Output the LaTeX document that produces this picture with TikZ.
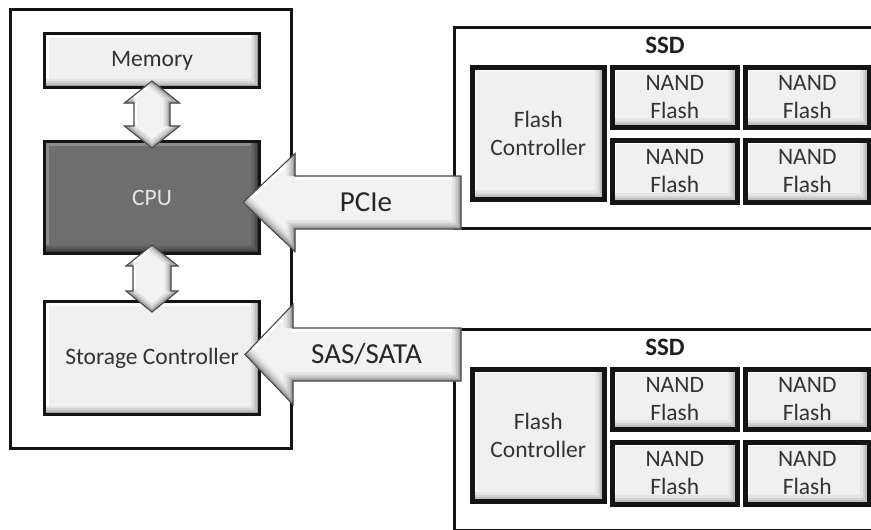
\documentclass[tikz,border=0pt]{standalone}
\usepackage{fontspec}
\setmainfont{Carlito}
\usetikzlibrary{calc}

\tikzset{
  txt/.style={text=black!80, font=\fontsize{23.5}{27.5}\selectfont, align=center},
  % raised-panel look: highlight on top/left, graded shade on bottom/right
  bevel/.style n args={2}{path picture={
      \draw[line width=8pt, #1, line join=miter]
        (path picture bounding box.south west) -- (path picture bounding box.north west)
        -- (path picture bounding box.north east);
      \foreach \bw/\bc in {#2}{
        \draw[line width=\bw pt, black!\bc, line join=miter]
          (path picture bounding box.south west) -- (path picture bounding box.south east)
          -- (path picture bounding box.north east);
      }}},
  unit/.style={rectangle, anchor=north west, inner sep=0pt, txt},
  lightbox/.style={unit, draw=black!92, line width=3pt, fill=black!6,
      bevel={white}{18/10,13/17,9/25,5/38}},
  chipbox/.style={lightbox, line width=4.5pt},
  cpubox/.style={unit, draw=black!92, line width=3pt, fill=black!57, text=black!10,
      bevel={black!45}{18/60,13/64,9/70,5/78}},
  frame/.style={rectangle, anchor=north west, inner sep=0pt, draw=black!92,
      line width=2.6pt, fill=white},
  ssdtitle/.style={font=\fontsize{25}{30}\selectfont\bfseries, text=black!88},
  lbl/.style={font=\fontsize{29}{34}\selectfont, text=black!85},
  arrowline/.style={line width=1.1pt, draw=black!72, line join=miter},
}

% left-pointing block arrow: tip, tail, head length, head half height, shaft half height
\newcommand\leftblockarrow[5]{%
  \path ($(#1)+(#3,#4)$) coordinate (la2)
        ($(#1)+(#3,#5)$) coordinate (la3)
        ($(#2)+(0pt,#5)$) coordinate (la4)
        ($(#2)+(0pt,-#5)$) coordinate (la5)
        ($(#1)+(#3,-#5)$) coordinate (la6)
        ($(#1)+(#3,-#4)$) coordinate (la7);
  \begin{scope}
    \clip (#1) -- (la2) -- (la3) -- (la4) -- (la5) -- (la6) -- (la7) -- cycle;
    \fill[black!5] (#1) -- (la2) -- (la3) -- (la4) -- (la5) -- (la6) -- (la7) -- cycle;
    \draw[line width=8pt, white] (#1) -- (la2) (la3) -- (la4);
    \foreach \bw/\bc in {18/10,13/17,9/25,5/38}{
      \draw[line width=\bw pt, black!\bc, line join=miter]
        (la2) -- (la3) (la4) -- (la5) -- (la6) -- (la7) -- (#1);
    }
  \end{scope}
  \draw[arrowline] (#1) -- (la2) -- (la3) -- (la4) -- (la5) -- (la6) -- (la7) -- cycle;
}

% vertical double block arrow: top tip, bottom tip, head length, head half width, shaft half width
\newcommand\vdoublearrow[5]{%
  \path ($(#1)+(#4,-#3)$) coordinate (va2)
        ($(#1)+(#5,-#3)$) coordinate (va3)
        ($(#2)+(#5,#3)$) coordinate (va4)
        ($(#2)+(#4,#3)$) coordinate (va5)
        ($(#2)+(-#4,#3)$) coordinate (va7)
        ($(#2)+(-#5,#3)$) coordinate (va8)
        ($(#1)+(-#5,-#3)$) coordinate (va9)
        ($(#1)+(-#4,-#3)$) coordinate (va10);
  \begin{scope}
    \clip (#1) -- (va2) -- (va3) -- (va4) -- (va5) -- (#2) -- (va7) -- (va8) -- (va9) -- (va10) -- cycle;
    \fill[black!5] (#1) -- (va2) -- (va3) -- (va4) -- (va5) -- (#2) -- (va7) -- (va8) -- (va9) -- (va10) -- cycle;
    \draw[line width=6pt, white] (va10) -- (#1) (va7) -- (va8) -- (va9) (va4) -- (va5);
    \foreach \bw/\bc in {13/12,9/20,5/34}{
      \draw[line width=\bw pt, black!\bc, line join=miter]
        (#1) -- (va2) -- (va3) -- (va4) (va5) -- (#2) -- (va7) (va9) -- (va10);
    }
  \end{scope}
  \draw[arrowline] (#1) -- (va2) -- (va3) -- (va4) -- (va5) -- (#2) -- (va7) -- (va8) -- (va9) -- (va10) -- cycle;
}

\begin{document}
\begin{tikzpicture}[x=1pt, y=-1pt]
  \useasboundingbox (0,0) rectangle (871,530);
  \clip (0,0) rectangle (871,530);
  \fill[white] (0,0) rectangle (871,530);

  % host side
  \node[frame, line width=3pt, minimum width=281pt, minimum height=439pt] (host) at (9,8) {};
  \node[lightbox, minimum width=215pt, minimum height=54pt] (mem) at (43,32) {Memory};
  \node[cpubox, minimum width=215pt, minimum height=112pt] (cpu) at (43,140) {CPU};
  \node[lightbox, minimum width=215pt, minimum height=113pt] (stc) at (43,300) {Storage Controller};

  % upper SSD
  \node[frame, minimum width=440pt, minimum height=201pt] (ssd1) at (453,26) {};
  \node[ssdtitle] (ssd1t) at (665,45) {SSD};
  \node[chipbox, minimum width=132pt, minimum height=132pt] (fc1) at (470,65) {Flash\\Controller};
  \node[chipbox, minimum width=125pt, minimum height=60pt] (n1a) at (610,65) {NAND\\Flash};
  \node[chipbox, minimum width=124pt, minimum height=60pt] (n1b) at (743,65) {NAND\\Flash};
  \node[chipbox, minimum width=125pt, minimum height=62pt] (n1c) at (610,138) {NAND\\Flash};
  \node[chipbox, minimum width=124pt, minimum height=62pt] (n1d) at (743,138) {NAND\\Flash};

  % lower SSD
  \node[frame, minimum width=440pt, minimum height=201pt] (ssd2) at (453,328) {};
  \node[ssdtitle] (ssd2t) at (665,347) {SSD};
  \node[chipbox, minimum width=132pt, minimum height=132pt] (fc2) at (470,367) {Flash\\Controller};
  \node[chipbox, minimum width=125pt, minimum height=60pt] (n2a) at (610,367) {NAND\\Flash};
  \node[chipbox, minimum width=124pt, minimum height=60pt] (n2b) at (743,367) {NAND\\Flash};
  \node[chipbox, minimum width=125pt, minimum height=62pt] (n2c) at (610,440) {NAND\\Flash};
  \node[chipbox, minimum width=124pt, minimum height=62pt] (n2d) at (743,440) {NAND\\Flash};

  % memory <-> CPU <-> storage controller
  \vdoublearrow{$(mem.south)+(0pt,8pt)$}{$(cpu.north)+(0pt,-8pt)$}{22pt}{27.5pt}{18pt}
  \vdoublearrow{$(cpu.south)+(0pt,10pt)$}{$(stc.north)+(0pt,-12pt)$}{21pt}{26pt}{19pt}

  % SSD links
  \coordinate (pcieTip) at ($(cpu.east)+(-18pt,-5pt)$);
  \coordinate (pcieTail) at ($(pcieTip -| ssd1.west)+(8pt,0pt)$);
  \leftblockarrow{pcieTip}{pcieTail}{52pt}{49pt}{26.5pt}
  \node[lbl] (pcieLbl) at ($(pcieTip)+(123pt,0pt)$) {PCIe};

  \coordinate (sasTip) at ($(stc.east)+(-16pt,3.5pt)$);
  \coordinate (sasTail) at ($(sasTip -| ssd2.west)+(8pt,0pt)$);
  \leftblockarrow{sasTip}{sasTail}{48pt}{50pt}{26.5pt}
  \node[lbl] (sasLbl) at ($(sasTip)+(121.5pt,0pt)$) {SAS/SATA};
\end{tikzpicture}
\end{document}
